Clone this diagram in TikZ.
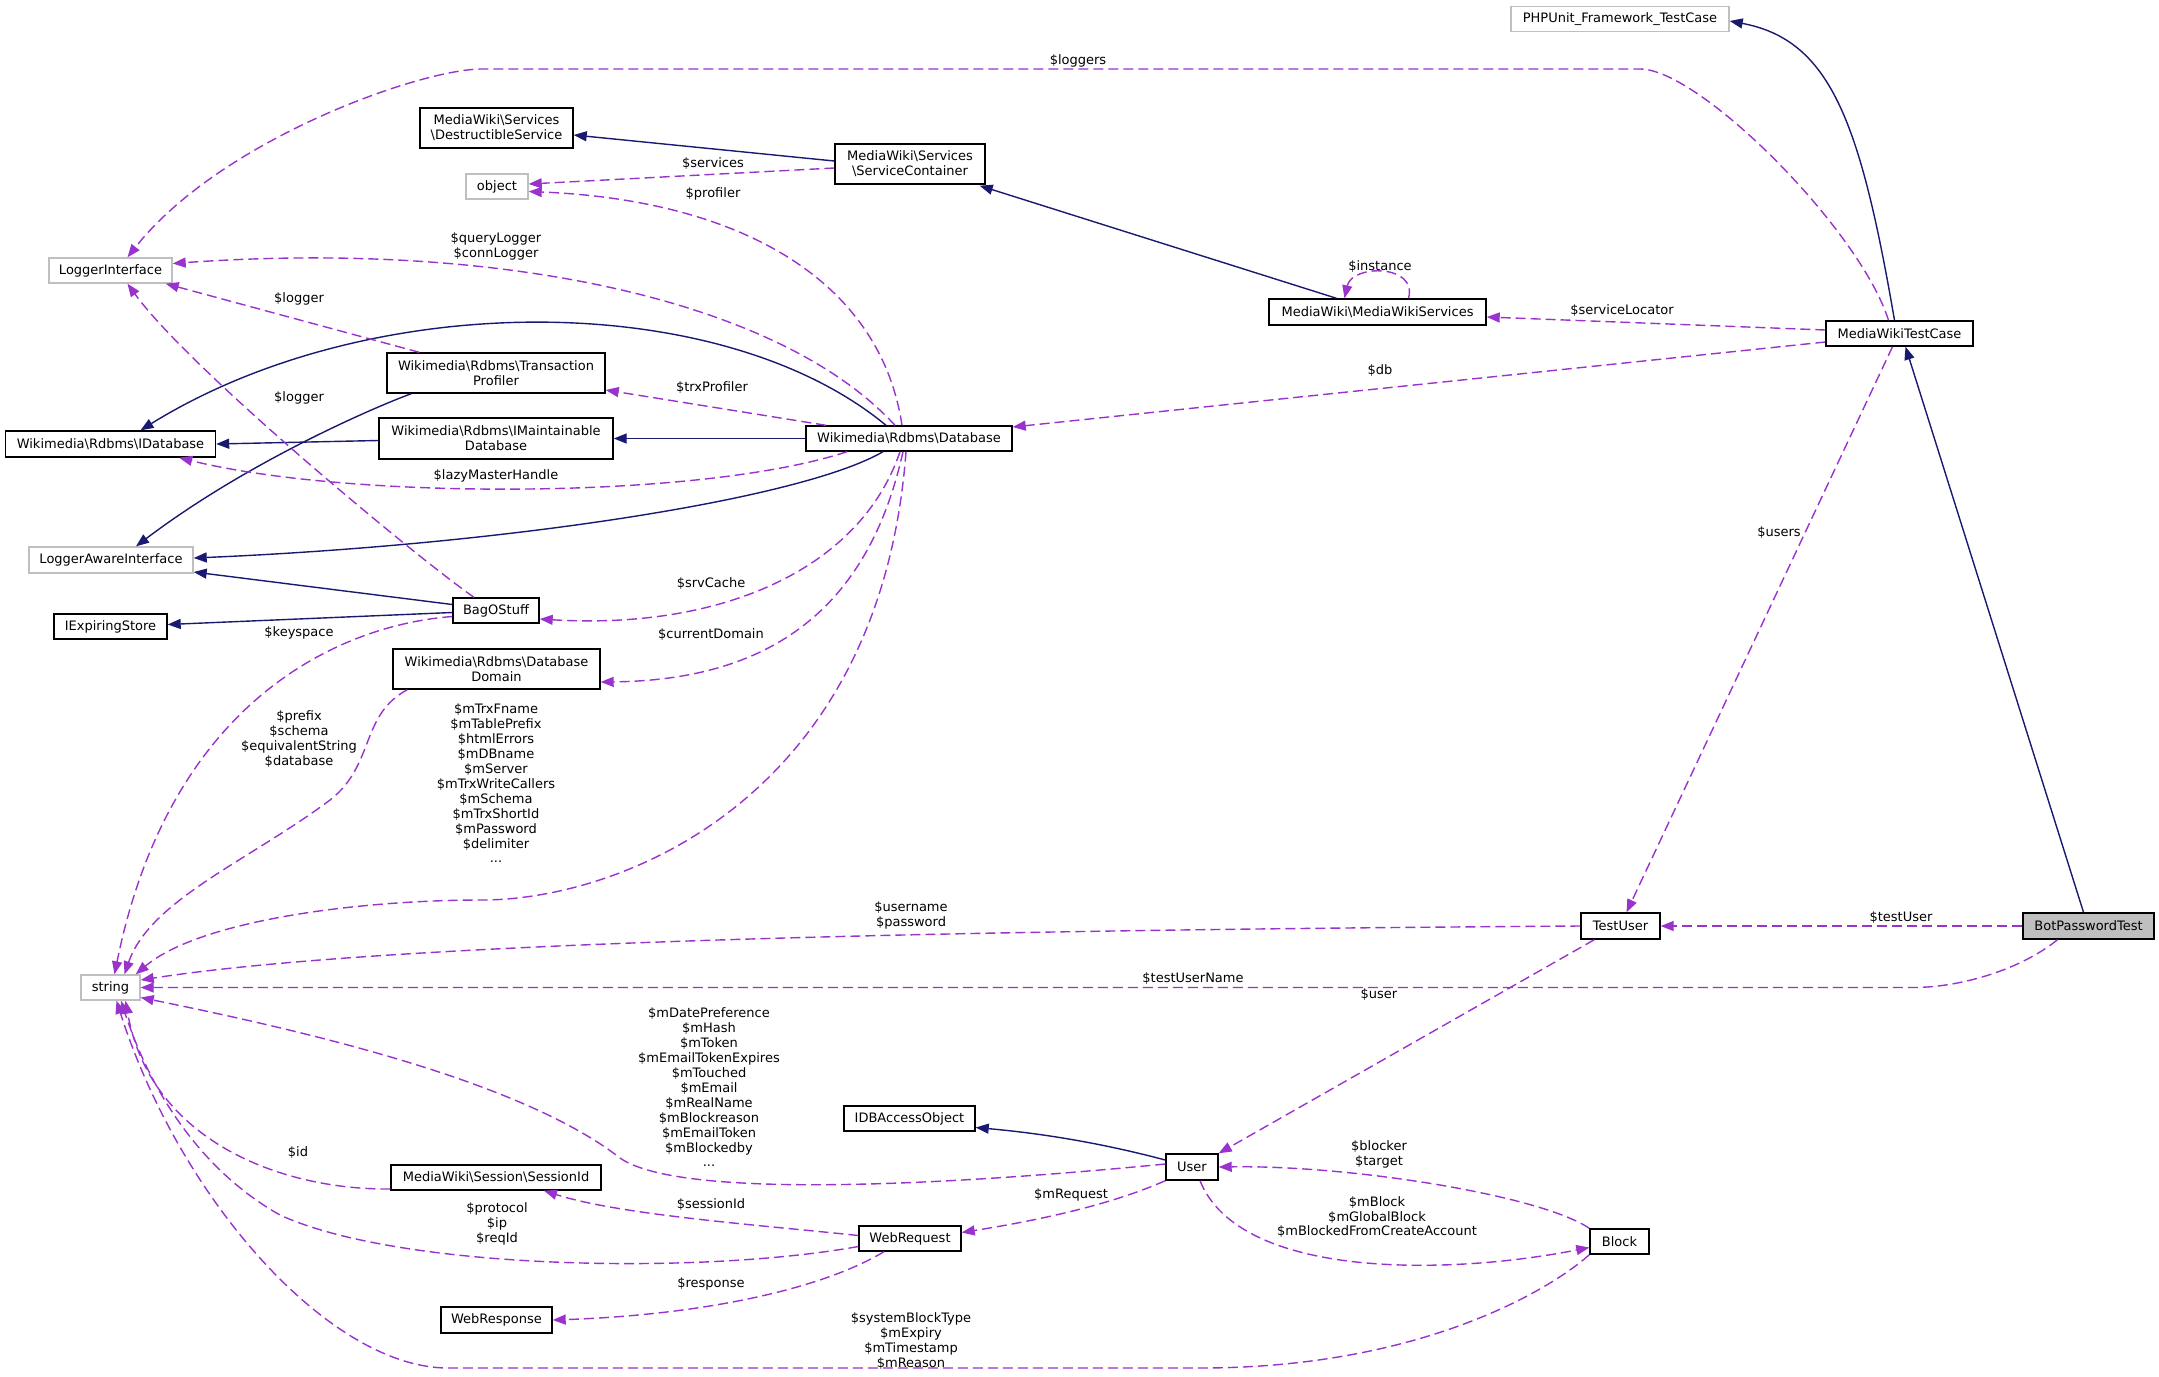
\documentclass[tikz,border=0pt]{standalone}
\usepackage{fontspec}
\setmainfont{DejaVu Sans}
\usetikzlibrary{arrows.meta,calc}
\definecolor{inhcol}{HTML}{191970}
\definecolor{usecol}{HTML}{9A32CD}
\definecolor{extcol}{HTML}{BFBFBF}
\newcommand{\bsl}{\textbackslash{}}
\begin{document}
\begin{tikzpicture}[x=1pt,y=-1pt,font=\fontsize{13}{14.9}\selectfont,
  sz/.style 2 args={minimum width=#1,minimum height=#2},
  cls/.style={draw=black,line width=1.4pt,inner sep=0pt,align=center,fill=white},
  ext/.style={cls,draw=extcol},
  inh/.style={draw=inhcol,line width=1.4pt,-{Triangle[length=13pt,width=10pt]}},
  use/.style={draw=usecol,line width=1.4pt,dash pattern=on 10pt off 5pt,-{Triangle[length=13pt,width=10pt]}},
  lbl/.style={align=center,inner sep=0pt}]
\useasboundingbox (0,0) rectangle (2159,1376);

\node[ext,sz={218}{25}] (phpunit) at (1620,19) {PHPUnit\_Framework\_TestCase};
\node[cls,sz={153}{40}] (dsvc) at (496.5,128) {MediaWiki\bsl Services\\\bsl DestructibleService};
\node[cls,sz={150}{40}] (svc) at (910,164) {MediaWiki\bsl Services\\\bsl ServiceContainer};
\node[ext,sz={62}{25}] (obj) at (497,186.5) {object};
\node[ext,sz={123}{25}] (logi) at (110.5,270.5) {LoggerInterface};
\node[cls,sz={218}{40}] (trx) at (496,373) {Wikimedia\bsl Rdbms\bsl Transaction\\Profiler};
\node[cls,sz={210}{26}] (idb) at (110.5,444) {Wikimedia\bsl Rdbms\bsl IDatabase};
\node[cls,sz={234}{41}] (imdb) at (496,438.5) {Wikimedia\bsl Rdbms\bsl IMaintainable\\Database};
\node[cls,sz={206}{25}] (db) at (909,438.5) {Wikimedia\bsl Rdbms\bsl Database};
\node[cls,sz={217}{26}] (mws) at (1377.5,312) {MediaWiki\bsl MediaWikiServices};
\node[cls,sz={147}{25}] (mwtc) at (1899.5,333.5) {MediaWikiTestCase};
\node[ext,sz={164}{26}] (lai) at (111,560) {LoggerAwareInterface};
\node[cls,sz={86}{25}] (bag) at (496,610.5) {BagOStuff};
\node[cls,sz={113}{25}] (ies) at (110.5,626.5) {IExpiringStore};
\node[cls,sz={207}{40}] (dom) at (496.5,669) {Wikimedia\bsl Rdbms\bsl Database\\Domain};
\node[ext,sz={59}{25}] (str) at (110.5,987.5) {string};
\node[cls,sz={79}{26}] (tuser) at (1620.5,926) {TestUser};
\node[cls,fill=extcol,sz={131}{26}] (bpt) at (2088.5,926) {BotPasswordTest};
\node[cls,sz={131}{25}] (idbao) at (909.5,1118.5) {IDBAccessObject};
\node[cls,sz={52}{26}] (user) at (1192,1167) {User};
\node[cls,sz={210}{25}] (sid) at (496,1177.5) {MediaWiki\bsl Session\bsl SessionId};
\node[cls,sz={102}{25}] (wreq) at (910,1238.5) {WebRequest};
\node[cls,sz={59}{25}] (block) at (1619.5,1241.5) {Block};
\node[cls,sz={111}{26}] (wresp) at (496.5,1320) {WebResponse};

\draw[inh] ($(svc.west)+(0,-3)$) -- ($(dsvc.east)+(0,7)$);
\draw[inh] ($(mws.north)+(-41,0)$) -- ($(svc.south east)+(-6,1)$);
\draw[inh] ($(mwtc.north)+(-5,0)$) .. controls (1860,120) and (1830,40) .. ($(phpunit.east)+(0,2)$);
\draw[inh] ($(bpt.north)+(-5,0)$) -- ($(mwtc.south)+(6,0)$);
\draw[inh] ($(db.north)+(-23,0)$) .. controls (720,288) and (370,288) .. ($(idb.north)+(30,0)$);
\draw[inh] ($(imdb.west)+(0,2)$) -- (idb.east);
\draw[inh] (db.west) -- (imdb.east);
\draw[inh] ($(trx.south west)+(25,0)$) .. controls (380,405) and (250,460) .. ($(lai.north)+(25,0)$);
\draw[inh] ($(db.south)+(-26,0)$) .. controls (800,500) and (500,545) .. ($(lai.east)+(0,-2)$);
\draw[inh] ($(bag.west)+(0,-6)$) -- ($(lai.east)+(0,12)$);
\draw[inh] ($(bag.west)+(0,2)$) -- ($(ies.east)+(0,-2)$);
\draw[inh] ($(user.west)+(0,-7)$) .. controls (1120,1148) and (1060,1135) .. ($(idbao.east)+(0,9)$);

\draw[use] ($(mwtc.north)+(-11,0)$) .. controls (1860,230) and (1700,69) .. (1640,69) -- (482,69)
  .. controls (420,69) and (220,140) .. ($(logi.north)+(17,0)$);
\draw[use] ($(svc.west)+(0,4)$) -- ($(obj.east)+(0,-2.5)$);
\draw[use] ($(db.north)+(-7,0)$) .. controls (880,280) and (740,200) .. ($(obj.east)+(0,5)$);
\draw[use] ($(db.north)+(-14,0)$) .. controls (780,300) and (500,240) .. ($(logi.east)+(0,-7)$);
\draw[use] ($(trx.north west)+(33,0)$) -- ($(logi.south east)+(-7,0)$);
\draw[use] ($(bag.north)+(-22,0)$) .. controls (420,560) and (190,370) .. ($(logi.south)+(17,0)$);
\draw[use] ($(db.north)+(-83,0)$) -- ($(trx.east)+(0,17)$);
\draw[use] ($(db.south)+(-62,0)$) .. controls (700,500) and (350,500) .. ($(idb.south east)+(-37,0)$);
\draw[use] ($(db.south)+(-9,0)$) .. controls (860,570) and (720,630) .. ($(bag.east)+(0,8.5)$);
\draw[use] ($(db.south)+(-6,0)$) .. controls (870,600) and (780,680) .. ($(dom.east)+(0,13)$);
\draw[use] ($(mwtc.west)+(0,-3.5)$) -- ($(mws.east)+(0,5)$);
\draw[use] ($(mws.north)+(31,0)$) .. controls (1418,264) and (1352,264) .. ($(mws.north)+(-33,0)$);
\draw[use] ($(mwtc.west)+(0,8.5)$) -- ($(db.east)+(0,-11.5)$);
\draw[use] ($(mwtc.south)+(-7,0)$) -- ($(tuser.north)+(6,0)$);
\draw[use] (bpt.west) -- (tuser.east);
\draw[use] ($(bpt.south)+(-31,0)$) .. controls (2020,970) and (1960,987.5) .. (1913,987.5) -- (str.east);
\draw[use] (tuser.west) .. controls (1000,930) and (400,940) .. ($(str.east)+(0,-7.5)$);
\draw[use] ($(tuser.south west)+(14,0)$) -- (user.north east);
\draw[use] ($(bag.west)+(0,6)$) .. controls (340,625) and (170,700) .. ($(str.north)+(4,0)$);
\draw[use] ($(dom.south west)+(15,0)$) .. controls (360,715) and (375,765) .. (330,800)
  .. controls (250,860) and (150,900) .. ($(str.north)+(14,0)$);
\draw[use] ($(db.south)+(-3,0)$) .. controls (880,800) and (620,900) .. (482,900)
  .. controls (360,900) and (200,920) .. ($(str.north east)+(-5,0)$);
\draw[use] ($(user.west)+(0,-3)$) .. controls (950,1185) and (680,1200) .. (620,1158)
  .. controls (520,1080) and (300,1030) .. ($(str.east)+(0,10)$);
\draw[use] ($(sid.west)+(0,11.5)$) .. controls (280,1190) and (150,1140) .. ($(str.south)+(15,0)$);
\draw[use] ($(wreq.west)+(0,-3)$) .. controls (760,1225) and (620,1215) .. ($(sid.south)+(48,0)$);
\draw[use] ($(wreq.west)+(0,8)$) .. controls (700,1275) and (400,1270) .. (280,1215)
  .. controls (200,1170) and (150,1090) .. ($(str.south)+(10.5,0)$);
\draw[use] (user.south west) .. controls (1110,1205) and (1040,1220) .. ($(wreq.east)+(0,-6)$);
\draw[use] ($(wreq.south)+(-26,0)$) .. controls (820,1290) and (700,1315) .. (wresp.east);
\draw[use] (block.north west) .. controls (1540,1195) and (1350,1165) .. (user.east);
\draw[use] ($(user.south)+(8,0)$) .. controls (1240,1280) and (1450,1275) .. ($(block.west)+(0,6)$);
\draw[use] (block.south west) .. controls (1550,1290) and (1420,1368) .. (1200,1368) -- (448,1368)
  .. controls (330,1368) and (180,1200) .. ($(str.south)+(6,0)$);

\node[lbl] (l-loggers) at (1078,61) {\$loggers};
\node[lbl] (l-services) at (713,164) {\$services};
\node[lbl] (l-profiler) at (713,194) {\$profiler};
\node[lbl] (l-querylog) at (496,246) {\$queryLogger\\\$connLogger};
\node[lbl] (l-logger1) at (299,299) {\$logger};
\node[lbl] (l-logger2) at (299,398) {\$logger};
\node[lbl] (l-trxprof) at (712,388) {\$trxProfiler};
\node[lbl] (l-lazy) at (496,476) {\$lazyMasterHandle};
\node[lbl] (l-srvcache) at (711,584) {\$srvCache};
\node[lbl] (l-curdom) at (711,635) {\$currentDomain};
\node[lbl] (l-keyspace) at (299,633) {\$keyspace};
\node[lbl] (l-prefix) at (299,739) {\$prefix\\\$schema\\\$equivalentString\\\$database};
\node[lbl] (l-dbvars) at (496,783.5) {\$mTrxFname\\\$mTablePrefix\\\$htmlErrors\\\$mDBname\\\$mServer\\\$mTrxWriteCallers\\\$mSchema\\\$mTrxShortId\\\$mPassword\\\$delimiter\\...};
\node[lbl] (l-username) at (911,915.5) {\$username\\\$password};
\node[lbl] (l-tusername) at (1193,979) {\$testUserName};
\node[lbl] (l-testuser) at (1901,918) {\$testUser};
\node[lbl] (l-user) at (1379,995) {\$user};
\node[lbl] (l-users) at (1779,533) {\$users};
\node[lbl] (l-instance) at (1380,267) {\$instance};
\node[lbl] (l-svcloc) at (1622,311) {\$serviceLocator};
\node[lbl] (l-db) at (1380,371) {\$db};
\node[lbl] (l-uservars) at (709,1087.5) {\$mDatePreference\\\$mHash\\\$mToken\\\$mEmailTokenExpires\\\$mTouched\\\$mEmail\\\$mRealName\\\$mBlockreason\\\$mEmailToken\\\$mBlockedby\\...};
\node[lbl] (l-id) at (298,1152) {\$id};
\node[lbl] (l-sessionid) at (711,1204) {\$sessionId};
\node[lbl] (l-protocol) at (497,1224) {\$protocol\\\$ip\\\$reqId};
\node[lbl] (l-response) at (711,1284) {\$response};
\node[lbl] (l-blocktype) at (911,1341) {\$systemBlockType\\\$mExpiry\\\$mTimestamp\\\$mReason};
\node[lbl] (l-mrequest) at (1071,1195) {\$mRequest};
\node[lbl] (l-blocker) at (1379,1154) {\$blocker\\\$target};
\node[lbl] (l-mblock) at (1377,1217) {\$mBlock\\\$mGlobalBlock\\\$mBlockedFromCreateAccount};
\end{tikzpicture}
\end{document}
